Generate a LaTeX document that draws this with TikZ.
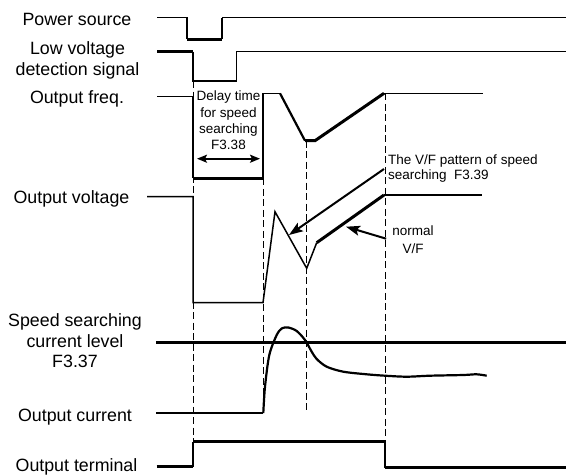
\documentclass[tikz,border=0pt]{standalone}
\usepackage{fontspec}
\setmainfont{Liberation Sans}
\usetikzlibrary{arrows.meta}
\begin{document}
\begin{tikzpicture}[x=1pt,y=-1pt,
  big/.style={font=\fontsize{17.8}{20.5}\selectfont, align=center, inner sep=0pt},
  small/.style={font=\fontsize{13.5}{16.3}\selectfont, inner sep=0pt},
  sig/.style={line width=1.5pt, line join=miter},
  sigmid/.style={line width=2.2pt, line join=miter},
  sigthick/.style={line width=3pt, line join=miter},
  guide/.style={line width=1pt, dash pattern=on 7pt off 3.5pt},
  ptr/.style={line width=2pt, -{Stealth[length=14pt,width=10pt,inset=3pt]}},
  dbl/.style={line width=1.8pt, {Stealth[length=10pt,width=8pt,inset=2pt]}-{Stealth[length=10pt,width=8pt,inset=2pt]}}
]
\useasboundingbox (0,0) rectangle (566,475);

% labels
\node[big] (lps) at (77,19.4) {Power source};
\node[big] (llv) at (77.5,60.4) {Low voltage\\detection signal};
\node[big] (lof) at (77,98.8) {Output freq.};
\node[big] (lov) at (71.5,198.8) {Output voltage};
\node[big] (lsl) at (75,340.7) {Speed searching\\current level\\F3.37};
\node[big] (loc) at (75,417.1) {Output current};
\node[big] (lot) at (76.5,467.1) {Output terminal};

% dashed guides
\draw[guide] (193,81) -- (193,441.5);
\draw[guide] (263,178.3) -- (263,413);
\draw[guide] (306,140.7) -- (306,413);
\draw[guide] (385,93.3) -- (385,441.5);

% power source
\draw[sig] (157,17.5) -- (187,17.5) -- (187,39);
\draw[sigthick] (187,39) -- (222,39);
\draw[sigmid] (222,39) -- (222,17.5);
\draw[sig] (222,17.5) -- (566,17.5);

% low voltage detection signal
\draw[sigthick] (157,51.7) -- (193,51.7);
\draw[sig] (193,51.7) -- (193,81) -- (236.7,81) -- (236.7,51.7) -- (566,51.7);

% output frequency
\draw[sig] (157,96.7) -- (193,96.7);
\draw[sigmid] (193,96.7) -- (193,178.3);
\draw[sigthick] (193,178.3) -- (263,178.3);
\draw[sig] (263,178.3) -- (263,93.3) -- (280,93.3);
\draw[sigmid] (280,93.3) -- (305,140.7);
\draw[sigthick] (305,140.7) -- (315,140.7) -- (384,93.3);
\draw[sig] (384,93.3) -- (483,93.3);

% delay text and arrow
\node[small, align=center] (dly) at (228.5,120.5) {Delay time\\for speed\\searching\\F3.38};
\coordinate (dl) at (197,158.7);
\coordinate (dr) at (260,158.7);
\draw[dbl] (dl) -- (dr);

% output voltage
\draw[sig] (147,196.7) -- (193,196.7) -- (193,302.7) -- (263,302.7) -- (275,211.7) -- (306.7,268.3) -- (316.7,242.7);
\draw[sigthick] (316.7,242.7) -- (384,195);
\draw[sig] (384,195) -- (482,195);

% speed searching current level
\draw[sigthick] (156,342) -- (566,342);

% output current
\draw[sig] (156,413) -- (263.3,413);
\draw[sigmid] plot[smooth, tension=0.5] coordinates {(263.3,413) (265,386.7) (269.3,355) (276.7,335) (282,328.3) (288.3,327.5) (296.7,331) (305,340) (311.7,351.7) (316.7,359) (326.7,366.7) (343.3,371.7) (366.7,374.3) (385,375.7) (406.7,376.7) (430,375.7) (463.3,375) (476.7,374.3) (486.7,375.7)};

% output terminal
\draw[sigthick] (156.7,466.5) -- (193,466.5);
\draw[sig] (193,466.5) -- (193,441.5);
\draw[sigthick] (193,441.5) -- (385,441.5);
\draw[sig] (385,441.5) -- (385,467.5);
\draw[sigthick] (385,467.5) -- (566,467.5);

% annotations
\node[small, align=left, anchor=north west, font=\fontsize{13.5}{15}\selectfont] (vft) at (388,155) {The V/F pattern of speed\\searching\ \ F3.39};
\coordinate (vftip) at (289,235);
\draw[ptr] ([xshift=-4pt]vft.west) -- (vftip);

\node[small, align=center, font=\fontsize{13.5}{17.3}\selectfont] (nrm) at (413,239.7) {normal\\V/F};
\coordinate (nrmtip) at (346,226.7);
\draw[ptr] ([xshift=-6pt,yshift=1pt]nrm.west) -- (nrmtip);
\end{tikzpicture}
\end{document}
